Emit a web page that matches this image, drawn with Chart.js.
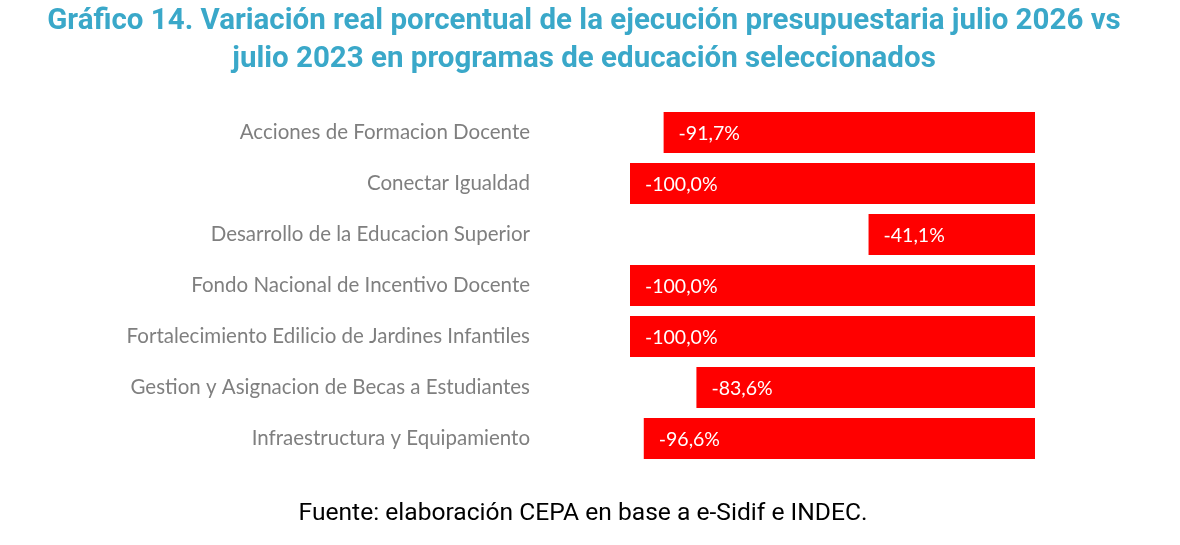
<!DOCTYPE html>
<html>
<head>
<meta charset="utf-8">
<script src="https://cdn.jsdelivr.net/npm/chart.js@4"></script>
<style>
  html, body { margin: 0; padding: 0; background: #fff; }
  #wrap { position: relative; width: 1180px; height: 545px; overflow: hidden; }
  #title {
    position: absolute; left: -6px; top: 0px; width: 1180px;
    text-align: center; font-family: Roboto, sans-serif; font-weight: bold;
    font-size: 29.5px; line-height: 38px; color: #3aa8c9;
  }
  #source {
    position: absolute; left: -7px; top: 497px; width: 1180px;
    text-align: center; font-family: Roboto, sans-serif;
    font-size: 24.6px; color: #000;
  }
  #chart { position: absolute; left: 0; top: 0; }
</style>
</head>
<body>
<div id="wrap">
  <canvas id="chart" width="1180" height="545"></canvas>
  <div id="title">Gráfico 14. Variación real porcentual de la ejecución presupuestaria julio 2026 vs<br>julio 2023 en programas de educación seleccionados</div>
  <div id="source">Fuente: elaboración CEPA en base a e-Sidif e INDEC.</div>
</div>
<script>
const programas = [
  "Acciones de Formacion Docente",
  "Conectar Igualdad",
  "Desarrollo de la Educacion Superior",
  "Fondo Nacional de Incentivo Docente",
  "Fortalecimiento Edilicio de Jardines Infantiles",
  "Gestion y Asignacion de Becas a Estudiantes",
  "Infraestructura y Equipamiento"
];
const variacion = [-91.7, -100.0, -41.1, -100.0, -100.0, -83.6, -96.6];

// writes the value in white just inside the left end of each bar
const barLabels = {
  id: "barLabels",
  afterDatasetsDraw(chart) {
    const ctx = chart.ctx;
    const meta = chart.getDatasetMeta(0);
    ctx.save();
    ctx.fillStyle = "#fff";
    ctx.font = "19.5px Lato, sans-serif";
    ctx.textAlign = "left";
    ctx.textBaseline = "middle";
    meta.data.forEach((bar, i) => {
      const txt = variacion[i].toFixed(1).replace(".", ",") + "%";
      ctx.fillText(txt, bar.x + 15, bar.y + 1);
    });
    ctx.restore();
  }
};

new Chart(document.getElementById("chart"), {
  type: "bar",
  data: {
    labels: programas,
    datasets: [{
      data: variacion,
      backgroundColor: "#ff0000",
      borderWidth: 0,
      barPercentage: 0.8,
      categoryPercentage: 1
    }]
  },
  options: {
    indexAxis: "y",
    responsive: false,
    animation: false,
    layout: { padding: { left: 0, right: 145, top: 107, bottom: 81 } },
    plugins: { legend: { display: false }, tooltip: { enabled: false } },
    scales: {
      x: { min: -100, max: 0, display: false },
      y: {
        grid: { display: false },
        border: { display: false },
        afterFit(scale) {
          scale.width = 630;
          // big tick padding would otherwise push the plot top/bottom in
          scale.paddingTop = 0;
          scale.paddingBottom = 0;
        },
        ticks: {
          padding: 92,
          color: "#7f7f7f",
          font: { family: "Lato, sans-serif", size: 20.5 }
        }
      }
    }
  },
  plugins: [barLabels]
});
</script>
</body>
</html>
